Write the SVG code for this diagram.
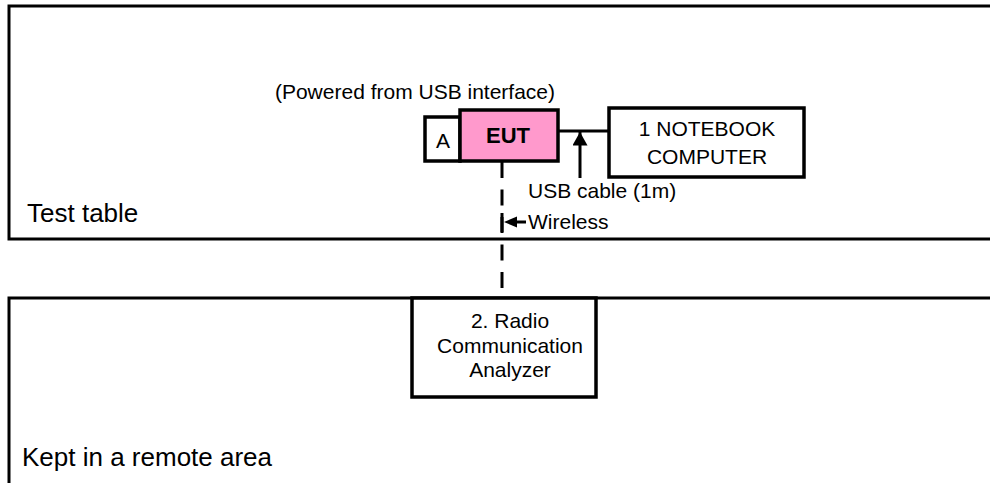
<svg xmlns="http://www.w3.org/2000/svg" width="990" height="483" viewBox="0 0 990 483">
<style>
.t{font-family:"Liberation Sans",Arial,sans-serif;fill:#000;font-size:21px}
.big{font-size:26px}
.box{fill:#fff;stroke:#000;stroke-width:3.5}
.ln{stroke:#000;stroke-width:3;fill:none}
</style>
<defs>
<marker id="ah" markerWidth="4.5" markerHeight="5" refX="4.5" refY="2.5" orient="auto" markerUnits="strokeWidth">
<path d="M0,0 L4.5,2.5 L0,5 Z" fill="#000"/>
</marker>
</defs>
<rect width="990" height="483" fill="#fff"/>
<g id="test-table">
<path class="ln" d="M1000,6 H9 V239 H1000" stroke-width="4"/>
<text class="t big" x="27" y="222">Test table</text>
</g>
<g id="remote-area">
<path class="ln" d="M1000,298 H9 V490" stroke-width="4"/>
<text class="t big" x="22" y="466">Kept in a remote area</text>
</g>
<g id="connectors">
<line class="ln" x1="558" y1="131" x2="609" y2="131"/>
<line class="ln" x1="580" y1="178" x2="580" y2="132" marker-end="url(#ah)"/>
<line class="ln" x1="502" y1="162" x2="502" y2="298" stroke-width="3.5" stroke-dasharray="16 11.5"/>
<line class="ln" x1="502" y1="213" x2="502" y2="232" stroke-width="3.5"/>
<line class="ln" x1="515" y1="222" x2="526" y2="222"/>
<path d="M504,222 L517,216.5 L517,227.5 Z" fill="#000"/>
<text class="t" x="528" y="198">USB cable (1m)</text>
<text class="t" x="528" y="229">Wireless</text>
</g>
<g id="a">
<rect class="box" x="425" y="117" width="35" height="44"/>
<text class="t" x="443" y="148" text-anchor="middle">A</text>
</g>
<g id="eut">
<rect class="box" x="460" y="110" width="98" height="51" style="fill:#ff99cc"/>
<text class="t" x="508" y="143" font-weight="bold" text-anchor="middle" style="font-size:22px">EUT</text>
<text class="t" x="415" y="99" text-anchor="middle">(Powered from USB interface)</text>
</g>
<g id="notebook">
<rect class="box" x="609" y="108" width="195" height="69"/>
<text class="t" x="707" y="136" text-anchor="middle">1 NOTEBOOK</text>
<text class="t" x="707" y="164" text-anchor="middle">COMPUTER</text>
</g>
<g id="analyzer">
<rect class="box" x="412" y="298" width="184" height="99"/>
<text class="t" x="510" y="328" text-anchor="middle">2. Radio</text>
<text class="t" x="510" y="353" text-anchor="middle">Communication</text>
<text class="t" x="510" y="377" text-anchor="middle">Analyzer</text>
</g>
</svg>
